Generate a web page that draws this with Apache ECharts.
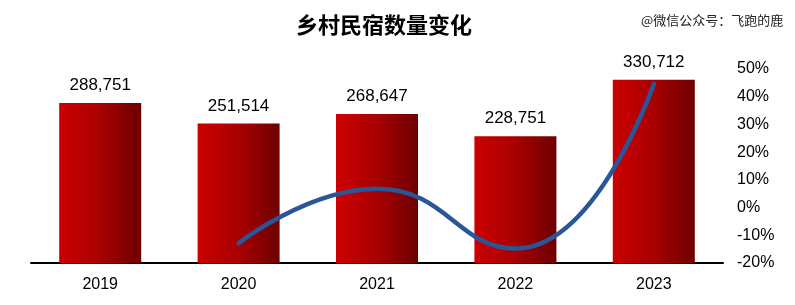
<!DOCTYPE html>
<html><head><meta charset="utf-8">
<script src="https://cdn.jsdelivr.net/npm/echarts@6/dist/echarts.min.js"></script>
<style>html,body{margin:0;padding:0;background:#fff}#c{width:795px;height:305px}</style>
</head><body><div id="c"></div>
<script>
const categories = ['2019','2020','2021','2022','2023'];
const counts = [288751, 251514, 268647, 228751, 330712];
const growth = [null, -12.9, 6.8, -14.8, 44.6];
const rightTicks = [-20, -10, 0, 10, 20, 30, 40, 50];

const chart = echarts.init(document.getElementById('c'));
chart.setOption({
  animation: false,
  backgroundColor: '#fff',
  title: [{
    text: '乡村民宿数量变化', left: 291, top: 9,
    textStyle: {fontFamily: 'Noto Sans CJK SC', fontWeight: 'bold', fontSize: 22, color: '#000'}
  }, {
    text: '@微信公众号：飞跑的鹿', left: 636, top: 9,
    textStyle: {fontFamily: 'Noto Sans CJK SC', fontWeight: 'normal', fontSize: 13, color: '#222'}
  }],
  grid: {left: 31, right: 72, top: 69, bottom: 42},
  xAxis: {
    type: 'category', data: categories,
    axisLine: {lineStyle: {color: '#000', width: 2}},
    axisTick: {show: false},
    axisLabel: {fontFamily: 'Liberation Sans', fontSize: 16, color: '#000', margin: 14}
  },
  yAxis: [{
    type: 'value', min: 0, max: 350000, show: false, splitLine: {show: false}
  }, {
    type: 'value', min: rightTicks[0], max: rightTicks[rightTicks.length-1], interval: 10,
    position: 'right', splitLine: {show: false},
    axisLine: {show: false}, axisTick: {show: false},
    axisLabel: {fontFamily: 'Liberation Sans', fontSize: 16, color: '#000', margin: 14,
      align: 'left', formatter: v => v + '%'}
  }],
  series: [{
    type: 'bar', data: counts, yAxisIndex: 0, barWidth: 82,
    itemStyle: {color: new echarts.graphic.LinearGradient(0, 0, 1, 0, [
      {offset: 0, color: '#cc0000'}, {offset: 0.5, color: '#a80000'}, {offset: 1, color: '#6e0000'}])},
    label: {show: true, position: 'top', distance: 9, fontFamily: 'Liberation Sans', fontSize: 17, color: '#000',
      formatter: p => p.value.toLocaleString('en-US')}
  }, {
    type: 'line', data: growth, yAxisIndex: 1, smooth: 0.5, showSymbol: false, symbol: 'none',
    lineStyle: {color: '#2a5599', width: 4.5, cap: 'round'}, z: 5
  }]
});
</script></body></html>
